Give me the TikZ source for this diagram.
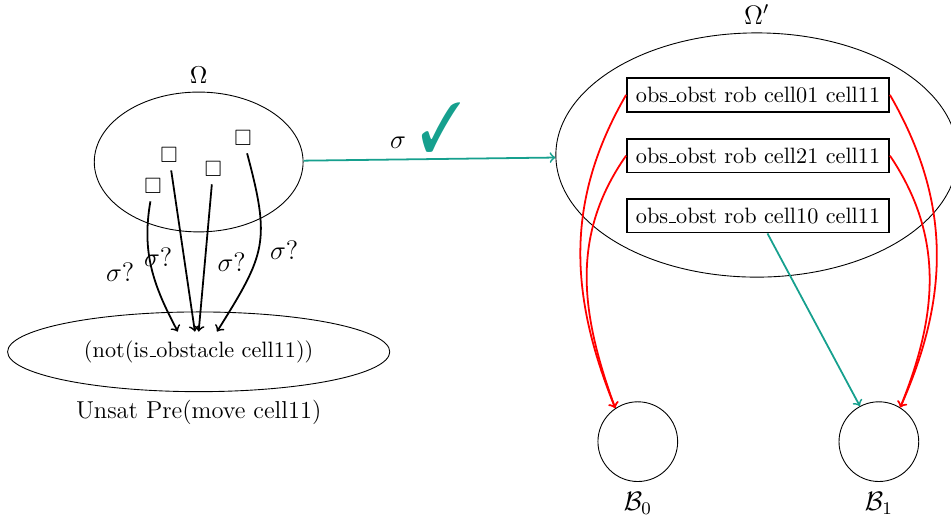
\documentclass[tikz,border=0pt]{standalone}
\usepackage{amsmath,amssymb}
\usepackage{pifont}
\usetikzlibrary{positioning,calc,shapes.geometric}
\definecolor{okteal}{HTML}{16A08E}
\definecolor{badred}{HTML}{FF0000}
\newcommand{\us}{\leavevmode\kern.06em\vbox{\hrule width.3em}}
\tikzset{
    every node/.style={font=\normalsize},
    stateset/.style={ellipse,draw,thin},
    blocker/.style={rectangle,draw,thick,inner xsep=4pt,inner ysep=3pt,minimum height=0.53cm},
    goal/.style={circle,draw,thin,minimum size=1.26cm},
    biglbl/.style={font=\large},
    midlbl/.style={font=\fontsize{11}{13}\selectfont},
    tryedge/.style={->,thick},
    badedge/.style={->,thick,badred},
    goodedge/.style={->,thick,okteal}
}
\begin{document}
\begin{tikzpicture}
\useasboundingbox (0,0) rectangle (15.03,-8.20);
% left side: the unsatisfied precondition
\node[stateset,minimum width=3.30cm,minimum height=2.21cm] (omega) at (3.14,-2.56) {};
\node[midlbl,above=0pt of omega] (omegalbl) {$\Omega$};
\node (sqa) at (2.67,-2.45) {$\square$};
\node (sqb) at (2.42,-2.94) {$\square$};
\node (sqc) at (3.37,-2.67) {$\square$};
\node (sqd) at (3.84,-2.18) {$\square$};
\node[stateset,minimum width=6.04cm,minimum height=1.26cm] (pre) at (3.14,-5.56) {(not(is\us obstacle cell11))};
\node[midlbl,below=0pt of pre] (prelbl) {Unsat Pre(move cell11)};
\draw[tryedge] (sqb) to[out=-100,in=118] ($(pre.center)+(-0.33,0.32)$);
\draw[tryedge] (sqa) -- ($(pre.center)+(-0.06,0.32)$);
\draw[tryedge] (sqc) -- ($(pre.center)+(0.0,0.32)$);
\draw[tryedge] (sqd) to[out=-75,in=58,looseness=1.3] ($(pre.center)+(0.29,0.32)$);
\node[biglbl] (qa) at (1.90,-4.31) {$\sigma?$};
\node[biglbl] (qb) at (2.50,-4.06) {$\sigma?$};
\node[biglbl] (qc) at (3.66,-4.14) {$\sigma?$};
\node[biglbl] (qd) at (4.49,-3.95) {$\sigma?$};
% right side: the new states
\node[stateset,minimum width=6.35cm,minimum height=3.86cm] (omegap) at (11.96,-2.45) {};
\node[biglbl,above=0pt of omegap] (omegaplbl) {$\Omega'$};
\node[blocker] (obsa) at (11.98,-1.50) {obs\us obst rob cell01 cell11};
\node[blocker] (obsb) at (11.98,-2.46) {obs\us obst rob cell21 cell11};
\node[blocker] (obsc) at (11.98,-3.41) {obs\us obst rob cell10 cell11};
\draw[goodedge] (omega) -- (omegap);
\node[biglbl] (sig) at (6.29,-2.26) {$\sigma$};
\node[okteal,font=\Huge] (tick) at (6.97,-2.02) {\scalebox{1}[1.25]{\ding{51}}};
\node[goal] (bzero) at (10.08,-6.98) {};
\node[goal] (bone) at (13.89,-6.98) {};
\node[biglbl,below=1pt of bzero] (bzerolbl) {$\mathcal{B}_0$};
\node[biglbl,below=1pt of bone] (bonelbl) {$\mathcal{B}_1$};
\draw[badedge] (obsa.west) to[out=240,in=112] (bzero.124);
\draw[badedge] (obsb.west) to[out=235,in=110] (bzero.124);
\draw[badedge] (obsa.east) to[out=-60,in=66] (bone.58);
\draw[badedge] (obsb.east) to[out=-56,in=68] (bone.58);
\draw[goodedge] (obsc) -- (bone);
\end{tikzpicture}
\end{document}
